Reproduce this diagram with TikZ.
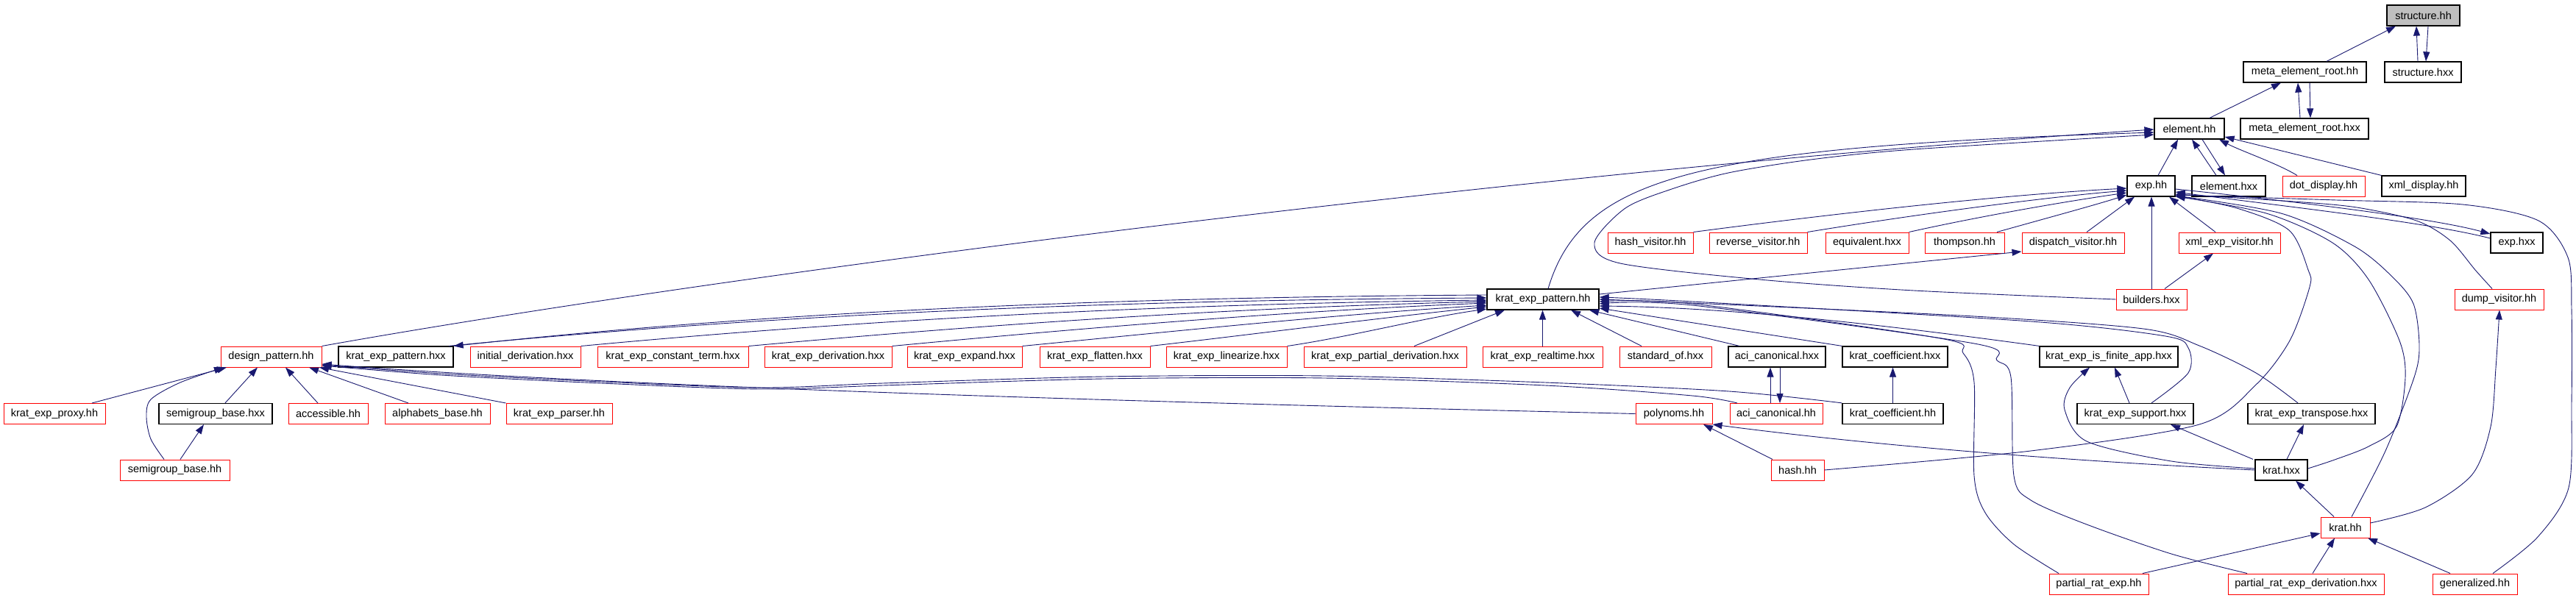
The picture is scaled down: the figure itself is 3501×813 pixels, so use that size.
\documentclass[tikz,border=0pt]{standalone}
\usepackage{fontspec}
\setmainfont{Liberation Sans}
\usetikzlibrary{arrows.meta}
\definecolor{edgec}{RGB}{25,25,112}
\definecolor{grayfill}{RGB}{191,191,191}
\newcommand\nodefnt{\fontsize{14.5}{16}\selectfont}
\tikzset{
  bx/.style={draw=black, line width=1.2pt, fill=white, minimum height=28pt, inner sep=0pt, font=\nodefnt},
  rb/.style={bx, draw=red, line width=1pt},
  gb/.style={bx, fill=grayfill},
  e/.style={draw=edgec, line width=0.9pt, -{Triangle[length=13pt,width=9pt]}},
}
\begin{document}
\begin{tikzpicture}[x=1pt,y=-1pt]
\fill[white] (0,0) rectangle (3501,813);
\useasboundingbox (0,0) rectangle (3501,813);
% ---------- nodes ----------
\node[gb, minimum width=99pt] (s_hh) at (3293.5,21) {structure.hh};
\node[bx, minimum width=167pt] (merh) at (3132.5,98) {meta\_element\_root.hh};
\node[bx, minimum width=104pt] (s_hxx) at (3293,98) {structure.hxx};
\node[bx, minimum width=95pt] (el_hh) at (2975.5,175) {element.hh};
\node[bx, minimum width=174pt] (merhxx) at (3132,175) {meta\_element\_root.hxx};
\node[bx, minimum width=65pt] (exp_hh) at (2923.5,253) {exp.hh};
\node[bx, minimum width=100pt] (el_hxx) at (3029,253) {element.hxx};
\node[rb, minimum width=112pt] (dot) at (3158,253) {dot\_display.hh};
\node[bx, minimum width=114pt] (xmld) at (3294,253) {xml\_display.hh};
\node[rb, minimum width=116pt] (hv) at (2243,330) {hash\_visitor.hh};
\node[rb, minimum width=133pt] (rv) at (2389.5,330) {reverse\_visitor.hh};
\node[rb, minimum width=113pt] (eq) at (2537.5,330) {equivalent.hxx};
\node[rb, minimum width=108pt] (th) at (2670,330) {thompson.hh};
\node[rb, minimum width=139pt] (dv) at (2817.5,330) {dispatch\_visitor.hh};
\node[rb, minimum width=138pt] (xev) at (3030,330) {xml\_exp\_visitor.hh};
\node[bx, minimum width=71pt] (exphxx) at (3420.5,330) {exp.hxx};
\node[bx, minimum width=152pt] (kep) at (2097,407) {krat\_exp\_pattern.hh};
\node[rb, minimum width=96pt] (bld) at (2924,407) {builders.hxx};
\node[rb, minimum width=121pt] (dump) at (3396.5,407) {dump\_visitor.hh};
\node[rb, minimum width=137pt] (dp) at (368.5,485) {design\_pattern.hh};
\node[bx, minimum width=156pt] (kephxx) at (538,485) {krat\_exp\_pattern.hxx};
\node[rb, minimum width=150pt] (id) at (714,485) {initial\_derivation.hxx};
\node[rb, minimum width=205pt] (kect) at (914.5,485) {krat\_exp\_constant\_term.hxx};
\node[rb, minimum width=173pt] (ked) at (1125.5,485) {krat\_exp\_derivation.hxx};
\node[rb, minimum width=156pt] (kee) at (1311,485) {krat\_exp\_expand.hxx};
\node[rb, minimum width=150pt] (kef) at (1488,485) {krat\_exp\_flatten.hxx};
\node[rb, minimum width=164pt] (kel) at (1667,485) {krat\_exp\_linearize.hxx};
\node[rb, minimum width=221pt] (kepd) at (1882.5,485) {krat\_exp\_partial\_derivation.hxx};
\node[rb, minimum width=163pt] (ker) at (2096.5,485) {krat\_exp\_realtime.hxx};
\node[rb, minimum width=125pt] (so) at (2263.5,485) {standard\_of.hxx};
\node[bx, minimum width=132pt] (acihxx) at (2415,485) {aci\_canonical.hxx};
\node[bx, minimum width=143pt] (kchxx) at (2575.5,485) {krat\_coefficient.hxx};
\node[bx, minimum width=188pt] (kefa) at (2866,485) {krat\_exp\_is\_finite\_app.hxx};
\node[rb, minimum width=138pt] (kepx) at (74,562.5) {krat\_exp\_proxy.hh};
\node[bx, minimum width=154pt] (sbhxx) at (293,562.5) {semigroup\_base.hxx};
\node[rb, minimum width=108pt] (acc) at (446,562.5) {accessible.hh};
\node[rb, minimum width=143pt] (ab) at (594.5,562.5) {alphabets\_base.hh};
\node[rb, minimum width=144pt] (kepar) at (760,562.5) {krat\_exp\_parser.hh};
\node[rb, minimum width=104pt] (poly) at (2275,562.5) {polynoms.hh};
\node[rb, minimum width=126pt] (acihh) at (2414,562.5) {aci\_canonical.hh};
\node[bx, minimum width=137pt] (kchh) at (2572.5,562.5) {krat\_coefficient.hh};
\node[bx, minimum width=158pt] (kes) at (2902,562.5) {krat\_exp\_support.hxx};
\node[bx, minimum width=173pt] (ket) at (3141.5,562.5) {krat\_exp\_transpose.hxx};
\node[rb, minimum width=149pt] (sbhh) at (237.5,639) {semigroup\_base.hh};
\node[rb, minimum width=72pt] (hash) at (2443,639) {hash.hh};
\node[bx, minimum width=71pt] (krhxx) at (3100.5,639) {krat.hxx};
\node[rb, minimum width=67pt] (krhh) at (3187.5,717) {krat.hh};
\node[rb, minimum width=135pt] (pre) at (2852.5,794) {partial\_rat\_exp.hh};
\node[rb, minimum width=212pt] (pred) at (3134,794) {partial\_rat\_exp\_derivation.hxx};
\node[rb, minimum width=115pt] (gen) at (3363.5,794) {generalized.hh};
% ---------- edges ----------
\draw[e] (3162,0|-merh.north) -- (3256,0|-s_hh.south);
\draw[e] (3286,0|-s_hxx.north) -- (3284,0|-s_hh.south);
\draw[e] (3300,0|-s_hh.south) -- (3297,0|-s_hxx.north);
\draw[e] (3003,0|-el_hh.north) -- (3100,0|-merh.south);
\draw[e] (3126,0|-merhxx.north) -- (3123,0|-merh.south);
\draw[e] (3139,0|-merh.south) -- (3140,0|-merhxx.north);
\draw[e] (2933,0|-exp_hh.north) -- (2960,0|-el_hh.south);
\draw[e] (3012,0|-el_hxx.north) -- (2979,0|-el_hh.south);
\draw[e] (2993,0|-el_hh.south) -- (3024,0|-el_hxx.north);
\draw[e] (3122,0|-dot.north) .. controls (3095,222) and (3045,205) .. (3016,0|-el_hh.south);
\draw[e] (xmld.north west) -- (el_hh.east|-0,186);
% long edges into element.hh
\draw[e] (dp.north east) .. controls (1000,370) and (2100,230) .. (el_hh.west|-0,176);
\draw[e] (2104,0|-kep.north) .. controls (2150,240) and (2300,200) .. (el_hh.west|-0,180);
\draw[e] plot[smooth] coordinates {(bld.west) (2601,395) (2391,380) (2202,358) (2167,330) (2209,283) (2272,257) (2349,235) (2461,217) (2601,203) (el_hh.west|-0,183)};
% into exp.hh
\draw[e] (hv.north east) .. controls (2450,296) and (2700,266) .. (exp_hh.west|-0,256);
\draw[e] (rv.north east) .. controls (2600,292) and (2780,268) .. (exp_hh.west|-0,259);
\draw[e] (eq.north east) .. controls (2700,292) and (2820,272) .. (exp_hh.west|-0,262);
\draw[e] (2714,0|-th.north) .. controls (2780,297) and (2850,278) .. (exp_hh.west|-0,265);
\draw[e] (2836,0|-dv.north) -- (2901,0|-exp_hh.south);
\draw[e] (bld.north) -- (bld.north|-exp_hh.south);
\draw[e] (3011,0|-xev.north) -- (2948,0|-exp_hh.south);
\draw[e] (2942,0|-bld.north) -- (3008,0|-xev.south);
\draw[e] (exp_hh.east|-0,257) .. controls (3100,272) and (3300,295) .. (exphxx.west|-0,318);
\draw[e] (exphxx.west|-0,324) .. controls (3300,302) and (3100,280) .. (exp_hh.east|-0,261);
\draw[e] plot[smooth] coordinates {(3387,0|-dump.north) (3364,367) (3330,327) (3284,300) (3203,282) (3117,274) (exp_hh.east|-0,264)};
\draw[e] plot[smooth] coordinates {(3388,0|-gen.north) (3449,730) (3491,663) (3495,547) (3495,420) (3490,350) (3450,300) (3347,278) (3175,272) (exp_hh.east|-0,265)};
\draw[e] plot[smooth] coordinates {(3196,0|-krhh.north) (3242,613) (3281,513) (3288,470) (3280,413) (3250,375) (3200,335) (3100,290) (exp_hh.east|-0,266)};
\draw[e] plot[smooth] coordinates {(krhxx.east|-0,637) (3173,625) (3219,607) (3257,580) (3269,513) (3261,463) (3219,380) (3170,330) (3080,290) (exp_hh.east|-0,267)};
\draw[e] plot[smooth] coordinates {(hash.east) (2760,613) (2989,577) (3066,523) (3112,463) (3139,390) (3137,367) (3111,313) (3040,283) (exp_hh.east|-0,266)};
% krat.hxx / krat.hh
\draw[e] (3062,0|-krhxx.north) -- (2950,0|-kes.south);
\draw[e] (3108,0|-krhxx.north) -- (3131,0|-ket.south);
\draw[e] plot[smooth] coordinates {(krhxx.west|-0,637) (2951,627) (2836,600) (2806,557) (2813,527) (2840,0|-kefa.south)};
\draw[e] (krhxx.west|-0,639) .. controls (2800,626) and (2550,606) .. (poly.south east);
\draw[e] (3172,0|-krhh.north) -- (3120,0|-krhxx.south);
\draw[e] (2912,0|-pre.north) -- (krhh.west|-0,725);
\draw[e] (3143,0|-pred.north) -- (3173,0|-krhh.south);
\draw[e] (3330,0|-gen.north) -- (3218,0|-krhh.south);
\draw[e] plot[smooth] coordinates {(krhh.east|-0,711) (3296,690) (3360,645) (3385,580) (3392,500) (3397,0|-dump.south)};
\draw[e] (2894,0|-kes.north) -- (2874,0|-kefa.south);
\draw[e] (2406,0|-acihh.north) -- (2406,0|-acihxx.south);
\draw[e] (2419,0|-acihxx.south) -- (2419,0|-acihh.north);
\draw[e] (kchh.north) -- (kchh.north|-kchxx.south);
\draw[e] (2409,0|-hash.north) -- (2315,0|-poly.south);
% into krat_exp_pattern.hh (right part)
\draw[e] (1922,0|-kepd.north) -- (2045,0|-kep.south);
\draw[e] (ker.north) -- (ker.north|-kep.south);
\draw[e] (2231,0|-so.north) -- (2135,0|-kep.south);
\draw[e] (2364,0|-acihxx.north) -- (2160,0|-kep.south);
\draw[e] (kchxx.north west) -- (kep.east|-0,419);
\draw[e] (kefa.north west) .. controls (2550,440) and (2350,418) .. (kep.east|-0,416);
\draw[e] plot[smooth] coordinates {(2924,0|-kes.north) (2974,507) (2974,473) (2943,457) (2760,437) (2300,410) (kep.east|-0,404)};
\draw[e] plot[smooth] coordinates {(3123,0|-ket.north) (3066,507) (2989,470) (2913,447) (2683,430) (2300,412) (kep.east|-0,407)};
\draw[e] plot[smooth] coordinates {(2798,0|-pre.north) (2737,740) (2698,697) (2683,647) (2683,520) (2668,480) (2637,460) (2300,413) (kep.east|-0,410)};
\draw[e] plot[smooth] coordinates {(3054,0|-pred.north) (2951,753) (2836,713) (2760,680) (2737,647) (2733,513) (2714,490) (2683,467) (2300,415) (kep.east|-0,413)};
\draw[e] (kep.east|-0,400) -- (dv.west|-0,342);
% into krat_exp_pattern.hh (left fan)
\draw[e] (610,0|-kephxx.north) .. controls (1084,424) and (1553,408) .. (kep.west|-0,405);
\draw[e] (kep.west|-0,401) .. controls (1553,404) and (1084,420) .. (kephxx.north east);
\draw[e] (id.north east) .. controls (1200,432) and (1610,413) .. (kep.west|-0,408);
\draw[e] (kect.north east) .. controls (1352,440) and (1686,418) .. (kep.west|-0,410);
\draw[e] (ked.north east) .. controls (1482,445) and (1751,423) .. (kep.west|-0,412);
\draw[e] (kee.north east) .. controls (1600,450) and (1810,428) .. (kep.west|-0,415);
\draw[e] (kef.north east) .. controls (1716,453) and (1868,433) .. (kep.west|-0,417);
\draw[e] (kel.north east) .. controls (1840,457) and (1930,433) .. (kep.west|-0,420);
% into design_pattern.hh
\draw[e] (125,0|-kepx.north) -- (308,0|-dp.south);
\draw[e] plot[smooth] coordinates {(223,0|-sbhh.north) (205,597) (199,567) (205,543) (245,520) (304,0|-dp.south)};
\draw[e] (245,0|-sbhh.north) -- (277,0|-sbhxx.south);
\draw[e] (306,0|-sbhxx.north) -- (350,0|-dp.south);
\draw[e] (432,0|-acc.north) -- (388,0|-dp.south);
\draw[e] (555,0|-ab.north) -- (420,0|-dp.south);
\draw[e] (kepar.north west) -- (434,0|-dp.south);
\draw[e] (poly.west) .. controls (1700,550) and (900,530) .. (dp.east|-0,495);
\draw[e] plot[smooth] coordinates {(2361,0|-acihh.north) (2300,538) (2100,524) (1800,514) (1500,515) (1200,524) (1034,529) (817,521) (600,510) (dp.east|-0,497)};
\draw[e] plot[smooth] coordinates {(kchh.north west) (2350,532) (2100,520) (1800,511) (1500,512) (1200,521) (1034,527) (817,519) (600,508) (dp.east|-0,496)};
\end{tikzpicture}
\end{document}
